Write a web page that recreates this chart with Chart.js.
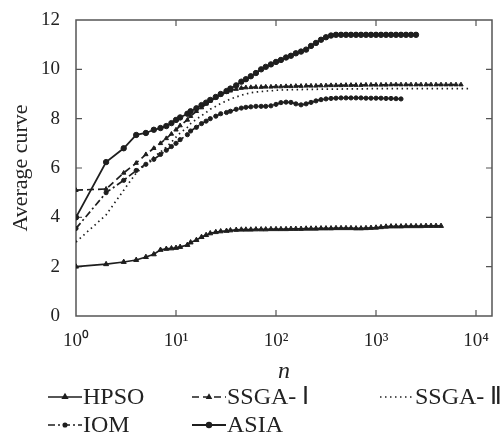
<!DOCTYPE html>
<html><head><meta charset="utf-8">
<script src="https://cdn.jsdelivr.net/npm/chart.js@4"></script>
<style>html,body{margin:0;padding:0;background:#fff}#c{display:block}</style>
</head>
<body><canvas id="c" width="504" height="443"></canvas>
<script>
const nValues = [1,2,3,4,5,6,7,8,9,
  10,11,13,14,16,18,20,22,25,28,32,35,40,45,50,56,63,71,79,89,
  100,112,126,141,158,178,200,224,251,282,316,355,398,447,501,562,631,708,794,891,
  1000,1122,1259,1413,1585,1778,1995,2239,2512,2818,3162,3548,3981,4467,5012,5623,6310,7079,7943,8913];

const hpso = [2.0,2.1,2.19,2.27,2.39,2.5,2.68,2.72,2.74,
  2.76,2.8,2.88,2.98,3.08,3.2,3.28,3.35,3.4,3.43,3.45,3.47,3.49,3.5,3.5,3.5,3.51,3.51,3.51,3.52,
  3.52,3.52,3.52,3.53,3.53,3.53,3.54,3.54,3.54,3.55,3.55,3.55,3.56,3.56,3.56,3.56,3.55,3.55,3.56,3.57,
  3.58,3.6,3.62,3.63,3.63,3.63,3.64,3.64,3.64,3.64,3.65,3.65,3.65,3.65,null,null,null,null,null];

const ssga1 = [5.1,5.15,5.8,6.2,6.55,6.8,7.0,7.2,7.38,
  7.55,7.72,7.95,8.1,8.3,8.45,8.6,8.72,8.85,8.97,9.07,9.13,9.2,9.24,9.26,9.27,9.28,9.28,9.29,9.29,
  9.3,9.3,9.31,9.31,9.32,9.32,9.33,9.33,9.33,9.34,9.34,9.35,9.35,9.35,9.36,9.36,9.36,9.36,9.37,9.37,
  9.37,9.37,9.37,9.38,9.38,9.38,9.38,9.38,9.38,9.38,9.38,9.38,9.38,9.38,9.38,9.38,9.38,9.38,null,null];

const ssga2 = [3.0,4.1,5.1,5.8,6.15,6.45,6.65,6.85,7.05,
  7.25,7.42,7.65,7.8,7.98,8.12,8.25,8.38,8.5,8.62,8.72,8.8,8.88,8.95,9.0,9.05,9.08,9.1,9.12,9.13,
  9.15,9.16,9.17,9.17,9.18,9.18,9.19,9.19,9.19,9.2,9.2,9.2,9.2,9.2,9.21,9.21,9.21,9.21,9.21,9.22,
  9.22,9.22,9.22,9.22,9.22,9.22,9.22,9.22,9.22,9.22,9.22,9.22,9.22,9.22,9.22,9.22,9.22,9.22,9.22,9.22];

const iom = [3.55,5.0,5.5,5.9,6.15,6.35,6.55,6.72,6.87,
  7.0,7.15,7.35,7.5,7.65,7.8,7.9,8.0,8.1,8.2,8.25,8.3,8.38,8.43,8.46,8.48,8.5,8.5,8.5,8.52,
  8.58,8.65,8.67,8.66,8.6,8.56,8.6,8.66,8.72,8.77,8.8,8.82,8.83,8.84,8.84,8.84,8.84,8.84,8.83,8.83,
  8.83,8.83,8.82,8.82,8.81,8.8,null,null,null,null,null,null,null,null,null,null,null,null,null,null];

const asia = [4.0,6.24,6.8,7.34,7.42,7.55,7.62,7.7,7.82,
  7.95,8.05,8.2,8.3,8.42,8.55,8.65,8.76,8.88,9.0,9.12,9.22,9.35,9.5,9.6,9.72,9.85,10.0,10.1,10.2,
  10.3,10.38,10.48,10.55,10.65,10.72,10.8,10.95,11.07,11.2,11.3,11.37,11.4,11.4,11.4,11.4,11.4,11.4,11.4,11.4,
  11.4,11.4,11.4,11.4,11.4,11.4,11.4,11.4,11.4,null,null,null,null,null,null,null,null,null,null,null];

const xTickValues = [1,10,100,1000,10000];
const xTickLabels = ['10\u2070','10\u00B9','10\u00B2','10\u00B3','10\u2074'];
const yTickValues = [0,2,4,6,8,10,12];
const seriesNames = ['HPSO','SSGA- \u2160','SSGA- \u2161','IOM','ASIA'];

const INK = '#1e1e1e';
function pts(arr){ const out=[]; arr.forEach((v,i)=>{ if(v!==null) out.push({x:nValues[i], y:v}); }); return out; }

const datasets = [
  {label:seriesNames[0], data:pts(hpso), borderColor:INK, backgroundColor:INK, borderWidth:1.7, pointStyle:'triangle', pointRadius:2.9, borderDash:[]},
  {label:seriesNames[1], data:pts(ssga1), borderColor:INK, backgroundColor:INK, borderWidth:1.7, pointStyle:'triangle', pointRadius:2.5, borderDash:[7,4]},
  {label:seriesNames[2], data:pts(ssga2), borderColor:INK, backgroundColor:INK, borderWidth:1.7, pointRadius:0, borderDash:[1.5,3.5]},
  {label:seriesNames[3], data:pts(iom), borderColor:INK, backgroundColor:INK, borderWidth:1.7, pointStyle:'circle', pointRadius:2.1, borderDash:[7,3,2,3]},
  {label:seriesNames[4], data:pts(asia), borderColor:INK, backgroundColor:INK, borderWidth:1.8, pointStyle:'circle', pointRadius:2.7, borderDash:[]}
];
datasets.forEach(d=>{ d.pointBorderWidth=1; d.tension=0; d.fill=false; d.pointHoverRadius=0; });

const AXIS = '#555';
const framePlugin = {
  id:'frame',
  beforeDatasetsDraw(chart){
    const {ctx, chartArea:a, scales} = chart;
    ctx.save();
    ctx.strokeStyle = AXIS; ctx.lineWidth = 1.5;
    ctx.strokeRect(a.left, a.top, a.right-a.left, a.bottom-a.top);
    ctx.lineWidth = 1.2;
    const L = 6;
    ctx.beginPath();
    xTickValues.forEach(v=>{
      const x = scales.x.getPixelForValue(v);
      if (x < a.left+1 || x > a.right-1) return;
      ctx.moveTo(x, a.bottom); ctx.lineTo(x, a.bottom-L);
      ctx.moveTo(x, a.top); ctx.lineTo(x, a.top+L);
    });
    yTickValues.forEach(v=>{
      const y = scales.y.getPixelForValue(v);
      if (y < a.top+1 || y > a.bottom-1) return;
      ctx.moveTo(a.left, y); ctx.lineTo(a.left+L, y);
      ctx.moveTo(a.right, y); ctx.lineTo(a.right-L, y);
    });
    ctx.stroke();
    ctx.restore();
  }
};

const legendSlots = [
  {x:48, y:397}, {x:192, y:397}, {x:380, y:397},
  {x:48, y:425}, {x:192, y:425}
];
const legendPlugin = {
  id:'cornerLegend',
  afterDraw(chart){
    const ctx = chart.ctx;
    ctx.save();
    chart.data.datasets.forEach((d,i)=>{
      const s = legendSlots[i];
      const w = 34;
      ctx.strokeStyle = d.borderColor; ctx.lineWidth = d.borderWidth;
      ctx.setLineDash(d.borderDash||[]);
      ctx.beginPath(); ctx.moveTo(s.x, s.y); ctx.lineTo(s.x+w, s.y); ctx.stroke();
      ctx.setLineDash([]);
      if (d.pointRadius > 0) {
        Chart.helpers.drawPoint(ctx, {pointStyle:d.pointStyle, radius:d.pointRadius-0.4, borderWidth:1, rotation:0}, s.x+w/2, s.y);
        ctx.fillStyle = d.backgroundColor; ctx.fill();
      }
      ctx.fillStyle = '#222';
      ctx.font = '24px "Liberation Serif", "Times New Roman", serif';
      ctx.textBaseline = 'middle';
      ctx.textAlign = 'left';
      ctx.fillText(d.label, s.x+w+1, s.y+1);
    });
    ctx.restore();
  }
};

new Chart(document.getElementById('c'), {
  type:'line',
  data:{datasets},
  plugins:[framePlugin, legendPlugin],
  options:{
    responsive:false, animation:false, events:[],
    layout:{padding:{left:0,right:12,top:20,bottom:57}},
    plugins:{legend:{display:false}, tooltip:{enabled:false}},
    scales:{
      x:{
        type:'logarithmic', min:1, max:14454,
        grid:{display:false}, border:{display:false},
        afterBuildTicks:s=>{ s.ticks = xTickValues.map(v=>({value:v})); },
        afterFit:s=>{ s.height = 70; },
        ticks:{ color:'#222', autoSkip:false, maxRotation:0, padding:6,
          font:{family:'"Liberation Serif", serif', size:19},
          callback:(v)=>{ const i = xTickValues.indexOf(v); return i>=0 ? xTickLabels[i] : ''; } },
        title:{display:true, text:'n', color:'#222', padding:{top:4,bottom:0},
          font:{family:'"Liberation Serif", serif', size:24, style:'italic'}}
      },
      y:{
        min:0, max:12,
        grid:{display:false}, border:{display:false},
        afterBuildTicks:s=>{ s.ticks = yTickValues.map(v=>({value:v})); },
        afterFit:s=>{ s.width = 76; },
        ticks:{ color:'#222', padding:8, font:{family:'"Liberation Serif", serif', size:19} },
        title:{display:true, text:'Average curve', color:'#222', padding:{top:8,bottom:0},
          font:{family:'"Liberation Serif", serif', size:22}}
      }
    }
  }
});
</script>
</body></html>
